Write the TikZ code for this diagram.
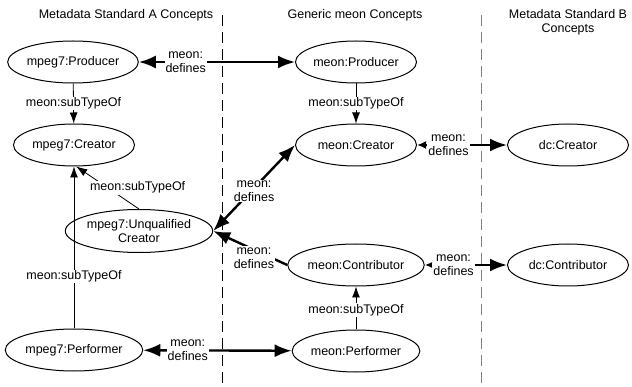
\documentclass[tikz,border=0pt]{standalone}
\usepackage{fontspec}
\setmainfont{Liberation Sans}
\usetikzlibrary{shapes.geometric,arrows.meta}

\tikzset{
  concept/.style={draw, ellipse, line width=1pt, minimum width=121pt, minimum height=42pt, inner sep=0pt, align=center},
  reltext/.style={fill=white, inner sep=1pt, align=center},
  subtype/.style={line width=0.8pt, -{Latex[length=11pt,width=8pt]}},
  defines/.style={line width=2.4pt, {Latex[length=17pt,width=13pt]}-{Latex[length=17pt,width=13pt]}},
  definesto/.style={line width=2.4pt, -{Latex[length=17pt,width=13pt]}},
  definesb/.style={line width=2.4pt, {Latex[length=9pt,width=8pt]}-{Latex[length=17pt,width=13pt]}},
  divider/.style={line width=0.8pt, dash pattern=on 11pt off 6pt},
}

\begin{document}
\begin{tikzpicture}[x=1pt, y=-1pt, font=\fontsize{12.5}{14}\selectfont]
\useasboundingbox (0,0) rectangle (632,387);

% columns
\draw[divider] (222,15) -- (222,387);
\draw[divider, gray] (481,15) -- (481,387);
\node (headA) at (126,15) {Metadata Standard A Concepts};
\node (headM) at (355,15) {Generic meon Concepts};
\node[align=center] (headB) at (568,22) {Metadata Standard B\\Concepts};

% standard A
\node[concept] (aprod) at (73,62) {mpeg7:Producer};
\node[concept] (acre) at (74,145) {mpeg7:Creator};
\node[concept, minimum width=128pt, minimum height=43pt] (aunq) at (139,231) {mpeg7:Unqualified\\Creator};
\node[concept] (aperf) at (74,350) {mpeg7:Performer};

% meon
\node[concept] (mprod) at (356,62) {meon:Producer};
\node[concept] (mcre) at (356,145) {meon:Creator};
\node[concept] (mcon) at (356,265) {meon:Contributor};
\node[concept] (mperf) at (356,351) {meon:Performer};

% standard B
\node[concept] (dcre) at (568,145) {dc:Creator};
\node[concept] (dcon) at (568,265) {dc:Contributor};

% subtypes
\draw[subtype] (aprod) -- node[reltext] (s1) {meon:subTypeOf} (acre);
\draw[subtype] (mprod) -- node[reltext] (s2) {meon:subTypeOf} (mcre);
\draw[subtype] (mperf) -- node[reltext, pos=0.45] (s3) {meon:subTypeOf} (mcon);
\draw[subtype] (aperf.north) -- node[reltext, pos=0.32] (s4) {meon:subTypeOf} (acre.south);
\draw[subtype] (aunq.north) -- node[reltext, pos=0.5, xshift=30pt] (s5) {meon:subTypeOf} (acre.-84);

% defines
\draw[defines] (aprod) -- node[reltext, pos=0.3] (d1) {meon:\\defines} (mprod);
\draw[defines] (aperf) -- node[reltext, pos=0.3] (d2) {meon:\\defines} (mperf);
\draw[defines] (mcre.west) -- node[reltext, pos=0.5, yshift=-3pt] (d3) {meon:\\defines} (aunq.east);
\draw[definesto] (mcon.west) -- node[reltext, pos=0.45, yshift=-8pt] (d4) {meon:\\defines} (aunq.east);
\draw[definesb] (mcre) -- node[reltext, pos=0.35] (d5) {meon:\\defines} (dcre);
\draw[definesb] (mcon) -- node[reltext, pos=0.35] (d6) {meon:\\defines} (dcon);
\end{tikzpicture}
\end{document}
